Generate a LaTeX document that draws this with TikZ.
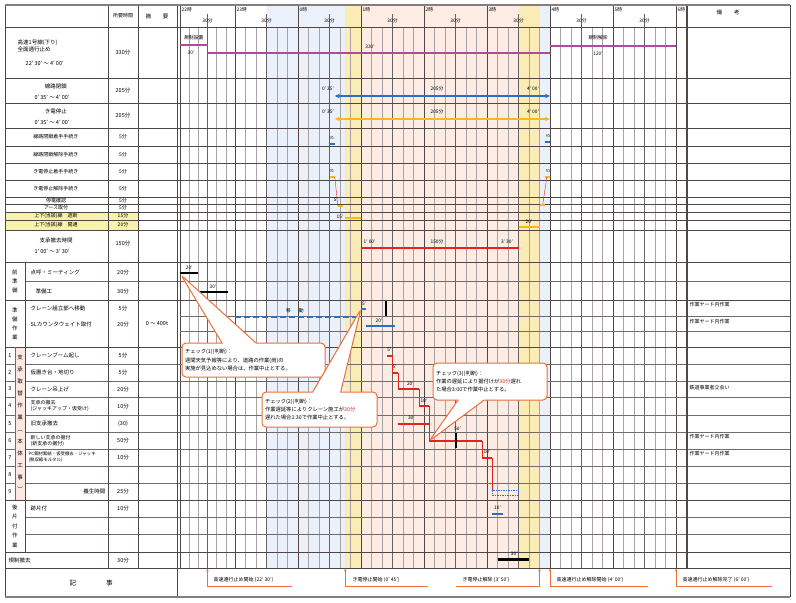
\documentclass[tikz,border=0pt]{standalone}
\usepackage{fontspec}
\setmainfont{Noto Sans CJK JP}
\usetikzlibrary{arrows.meta,shapes.callouts}
\definecolor{gridd}{RGB}{80,70,70}
\definecolor{gridl}{RGB}{170,162,162}
\definecolor{magbar}{RGB}{178,72,160}
\definecolor{bluebar}{RGB}{45,110,200}
\definecolor{yelbar}{RGB}{248,185,25}
\definecolor{redbar}{RGB}{228,35,30}
\definecolor{calloutc}{RGB}{238,110,55}
\definecolor{bandblue}{RGB}{234,241,250}
\definecolor{bandyel}{RGB}{250,236,180}
\definecolor{bandpink}{RGB}{252,236,228}
\definecolor{rowyel}{RGB}{248,242,175}
\definecolor{colpink}{RGB}{252,232,225}
\tikzset{
  lbl/.style={inner sep=0.5pt,font=\fontsize{5.5}{7}\selectfont},
  tlbl/.style={inner sep=0.5pt,font=\fontsize{4.8}{5.5}\selectfont},
  vlbl/.style={inner sep=0pt,align=center,font=\fontsize{5.5}{9}\selectfont},
  rowline/.style={draw=gridd,line width=0.6pt},
  thinline/.style={draw=gridd!80,line width=0.45pt},
  minline/.style={draw=gridl,line width=0.35pt},
  halfline/.style={draw=gridd!85,line width=0.55pt},
  hourline/.style={draw=gridd,line width=0.8pt},
  regbar/.style={draw=magbar,line width=1.8pt},
  closearrow/.style={draw=bluebar,line width=1.3pt,
    {Stealth[length=5pt,width=4.5pt]}-{Stealth[length=5pt,width=4.5pt]}},
  powerarrow/.style={closearrow,draw=yelbar},
  taskbar/.style={line width=2pt},
  linkline/.style={draw=redbar,line width=0.4pt},
  movedash/.style={draw=bluebar,line width=1.7pt,dash pattern=on 6pt off 3pt},
  checkbox/.style={rectangle callout,draw=calloutc,line width=1pt,fill=white,
    rounded corners=4pt,align=left,inner sep=3pt,
    font=\fontsize{5.3}{8.4}\selectfont},
  notearrow/.style={draw=calloutc,line width=0.6pt,-{Stealth[length=3pt,width=2.5pt]}},
  notetext/.style={inner sep=0.5pt,anchor=west,font=\fontsize{5}{6}\selectfont},
}
\begin{document}
\begin{tikzpicture}[x=1pt,y=-1pt,
  declare function={tx(\m)=ifthenelse(\m<60,180+\m*0.916667,235+(\m-60)*1.05);}]
\useasboundingbox (0,0) rectangle (796,603);
% time bands
\fill[bandblue] ({tx(90)},5) rectangle ({tx(165)},568);
\fill[bandyel] ({tx(165)},5) rectangle ({tx(180)},568);
\fill[bandpink] ({tx(180)},5) rectangle ({tx(330)},568);
\fill[bandyel] ({tx(330)},5) rectangle ({tx(350)},568);
\fill[bandblue] ({tx(350)},5) rectangle ({tx(360)},568);
\fill[rowyel] (5,212) rectangle (138,230);
\fill[colpink] (15,347) rectangle (25,500);
% grid
\foreach \m in {0,10,...,480}
  \draw[minline] ({tx(\m)},27) -- ({tx(\m)},568);
\foreach \m in {30,90,...,450}
  \draw[halfline] ({tx(\m)},14) -- ({tx(\m)},568);
\foreach \m in {0,60,...,480}
  \draw[hourline] ({tx(\m)},5) -- ({tx(\m)},568);
\foreach \y in {27,78,103,128,146,163,180,197,204,212,220,230,262,300,347,500,552,568}
  \draw[rowline] (5,\y) -- (790,\y);
\foreach \y in {281,517,534}
  \draw[thinline] (25,\y) -- (790,\y);
\foreach \y in {364,381,397,415,432,449,466,483}{
  \draw[thinline] (5,\y) -- (15,\y);
  \draw[thinline] (25,\y) -- (790,\y);
}
\foreach \y in {316,331}
  \draw[thinline] (180,\y) -- (790,\y);
\draw[rowline] (108,5) -- (108,568);
\draw[rowline] (138,5) -- (138,568);
\draw[rowline] (177,5) -- (177,597);
\draw[rowline] (25,262) -- (25,552);
\draw[thinline] (15,347) -- (15,500);
\draw[draw=gridd,line width=1.2pt] (687,5) -- (687,568);
\draw[rowline] (5,5) -- (5,597);
\draw[rowline] (790,5) -- (790,597);
\draw[draw=gridd!70,line width=2pt] (5,5) -- (790,5);
\draw[draw=gridd!70,line width=2pt] (5,597) -- (790,597);

% header
\node[lbl,font=\fontsize{5}{6}\selectfont] (hd-time) at (123,16) {所要時間};
\node[lbl] (hd-memo) at (157,16) {摘\hspace{12pt}要};
\node[lbl] (hd-note) at (728,12) {備\hspace{12pt}考};
\foreach \h [count=\k from 0] in {22,23,0,1,2,3,4,5,6}
  \node[tlbl,anchor=west] (hr-\k) at ({tx(60*\k)+1},9.5) {\h 時};
\foreach \k in {0,...,7}
  \node[tlbl] (hf-\k) at ({tx(60*\k+30)},20.5) {30分};

% left labels
\node[lbl,anchor=west,align=left] (lb-road) at (17,46) {高速1号線(下り)\\全面通行止め};
\node[lbl,anchor=west] (lb-road-t) at (25,63) {22' 30' ～ 4' 00'};
\node[lbl] (du-road) at (123,52) {330分};
\node[lbl] (lb-close) at (56,86) {線路閉鎖};
\node[lbl] (lb-close-t) at (52,97) {0' 35' ～ 4' 00'};
\node[lbl] (du-close) at (123,90) {205分};
\node[lbl] (lb-power) at (56,111) {き電停止};
\node[lbl] (lb-power-t) at (52,122) {0' 35' ～ 4' 00'};
\node[lbl] (du-power) at (123,115) {205分};
\foreach \y/\t/\d [count=\i] in {137/線路閉鎖着手手続き/5分,155/線路閉鎖解除手続き/5分,
    172/き電停止着手手続き/5分,189/き電停止解除手続き/5分,200.5/停電確認/5分,
    208/アース取付/5分,216/上下(当該)線　遮断/15分,225/上下(当該)線　開通/20分}{
  \node[lbl,font=\fontsize{5}{6}\selectfont] (lb-up-\i) at (56,\y) {\t};
  \node[lbl,font=\fontsize{5}{6}\selectfont] (du-up-\i) at (123,\y) {\d};
}
\node[lbl] (lb-brg) at (56,240) {支承撤去時間};
\node[lbl] (lb-brg-t) at (52,251) {1' 00' ～ 3' 30'};
\node[lbl] (du-brg) at (123,243) {150分};

\node[vlbl] (sec-pre) at (15,281) {前\\準\\備};
\node[vlbl] (sec-prep) at (15,323.5) {準\\備\\作\\業};
\node[vlbl,font=\fontsize{5.5}{12}\selectfont] (sec-main) at (20,423.5)
  {支\\承\\取\\替\\作\\業\\︵\\本\\体\\工\\事\\︶};
\node[vlbl,font=\fontsize{5.5}{9.5}\selectfont] (sec-post) at (15,526) {後\\片\\付\\作\\業};
\foreach \y/\t/\d [count=\i] in {272/点呼・ミーティング/20分,308/クレーン組立部へ移動/5分,
    324/SLカウンタウェイト取付/20分,355.5/クレーンブーム起し/5分,
    372.5/仮置き台・地切り/5分,389/クレーン吊上げ/20分,423.5/旧支承撤去/(30),
    508.5/跡片付/10分}{
  \node[lbl,anchor=west] (lb-job-\i) at (30,\y) {\t};
  \node[lbl] (du-job-\i) at (123,\y) {\d};
}
\node[lbl,anchor=west] (lb-job-prep) at (35,291) {準備工};
\node[lbl] (du-job-prep) at (123,291) {30分};
\node[lbl] (memo-sl) at (157,324) {0 ～ 400t};
\node[lbl,anchor=west,align=left,font=\fontsize{5}{6}\selectfont] (lb-job-rem) at (30,406)
  {支承の撤去\\(ジャッキアップ・仮受け)};
\node[lbl] (du-job-rem) at (123,406) {10分};
\node[lbl,anchor=west,align=left,font=\fontsize{5}{6}\selectfont] (lb-job-set) at (30,440.5)
  {新しい支承の据付\\(新支承の据付)};
\node[lbl] (du-job-set) at (123,440.5) {50分};
\node[lbl,anchor=west,align=left,font=\fontsize{4.4}{6}\selectfont] (lb-job-pc) at (28,457.5)
  {PC鋼材緊結・仮受撤去・ジャッキ\\(無収縮モルタル)};
\node[lbl] (du-job-pc) at (123,457.5) {10分};
\node[lbl,anchor=east] (lb-job-cure) at (106,491.5) {養生時間};
\node[lbl] (du-job-cure) at (123,491.5) {25分};
\foreach \n [count=\i] in {355.5,372.5,389,406,423.5,440.5,457.5,474.5,491.5}
  \node[lbl] (no-\i) at (10,\n) {\i};
\node[lbl,anchor=west] (lb-open) at (8,560) {規制撤去};
\node[lbl] (du-open) at (123,560) {30分};
\node[lbl,font=\fontsize{6.5}{8}\selectfont] (lb-memo) at (91,583) {記\hspace{30pt}事};

% remarks column
\foreach \y/\t [count=\i] in {305/作業ヤード内作業,322/作業ヤード内作業,388/鉄道事業者立会い,
    437/作業ヤード内作業,454/作業ヤード内作業}
  \node[lbl,anchor=west,font=\fontsize{5}{6}\selectfont] (rm-\i) at (689,\y) {\t};

% road closure
\draw[regbar] ({tx(0)},45) -- ({tx(30)},45);
\draw[regbar] ({tx(30)},53) -- ({tx(360)},53);
\draw[regbar] ({tx(360)},46) -- ({tx(480)},46);
\node[tlbl] (rg-set) at ({tx(15)},38) {規制設置};
\node[tlbl] (rg-set-t) at (191,53) {30'};
\node[tlbl] (rg-main-t) at (370,47) {330'};
\node[tlbl] (rg-off) at (598,38) {規制解除};
\node[tlbl] (rg-off-t) at (598,54) {120'};
% track closure and power stop
\draw[closearrow] ({tx(155)},96) -- ({tx(360)},96);
\node[tlbl] (cl-s) at (328,89) {0' 35'};
\node[tlbl] (cl-d) at (437,89) {205分};
\node[tlbl] (cl-e) at (533,89) {4' 00'};
\draw[powerarrow] ({tx(155)},119) -- ({tx(360)},119);
\node[tlbl] (pw-s) at (328,112) {0' 35'};
\node[tlbl] (pw-d) at (437,112) {205分};
\node[tlbl] (pw-e) at (533,112) {4' 00'};
% procedures
\draw[taskbar,draw=bluebar] ({tx(150)},144) -- ({tx(155)},144);
\node[tlbl,rotate=-90] (pr-1) at ({tx(152)},138) {5'};
\draw[taskbar,draw=yelbar] ({tx(150)},177) -- ({tx(155)},177);
\node[tlbl,rotate=-90] (pr-2) at ({tx(152)},171) {5'};
\draw[linkline] ({tx(155)},177) -- ({tx(158)},206);
\draw[taskbar,draw=yelbar] ({tx(158)},206) -- ({tx(163)},206);
\node[tlbl] (pr-3) at ({tx(156)},200) {5'};
\draw[taskbar,draw=yelbar] ({tx(165)},218) -- ({tx(180)},218);
\node[tlbl] (pr-4) at (340,217) {15'};
\draw[taskbar,draw=bluebar] ({tx(355)},142) -- ({tx(360)},142);
\node[tlbl,rotate=-90] (pr-5) at ({tx(358)},136) {5'};
\draw[taskbar,draw=yelbar] ({tx(355)},177) -- ({tx(360)},177);
\node[tlbl,rotate=-90] (pr-6) at ({tx(358)},171) {5'};
\draw[linkline] ({tx(357)},177) -- ({tx(353)},205);
\draw[taskbar,draw=yelbar] ({tx(350)},205) -- ({tx(355)},205);
\draw[taskbar,draw=yelbar] ({tx(330)},227) -- ({tx(350)},227);
\node[tlbl] (pr-7) at ({tx(340)},222) {20'};
\draw[taskbar,draw=redbar] ({tx(180)},248) -- ({tx(330)},248);
\node[tlbl,anchor=west] (br-s) at ({tx(180)+2},242) {1' 00'};
\node[tlbl] (br-d) at (437,242) {150分};
\node[tlbl] (br-e) at (507,242) {3' 30'};
% preparation
\draw[taskbar] ({tx(0)},273) -- ({tx(20)},273);
\node[tlbl] (pp-1) at ({tx(10)},267.5) {20'};
\draw[taskbar] ({tx(20)},292) -- ({tx(52)},292);
\node[tlbl] (pp-2) at ({tx(36)},286.5) {30'};
\draw[movedash] ({tx(60)},317) -- ({tx(175)},317);
\node[tlbl] (pp-mv) at (295,311) {移\hspace{8pt}動};
\draw[taskbar,draw=bluebar] ({tx(180)},309) -- ({tx(185)},309);
\node[tlbl] (pp-3) at (364,303.5) {5'};
\draw[taskbar] ({tx(204)},300.5) -- ({tx(204)},316);
\draw[taskbar,draw=bluebar] ({tx(185)},326) -- ({tx(212)},326);
\node[tlbl] (pp-4) at (379,320.5) {20'};
% bearing replacement
\draw[taskbar,draw=redbar] ({tx(205)},355.5) -- ({tx(210)},355.5);
\node[tlbl] (bw-1) at ({tx(207)},350) {5'};
\draw[linkline] ({tx(210)},355.5) -- ({tx(210)},372.5);
\draw[taskbar,draw=redbar] ({tx(210)},372.5) -- ({tx(215)},372.5);
\node[tlbl] (bw-2) at ({tx(212)},367) {5'};
\draw[linkline] ({tx(215)},372.5) -- ({tx(215)},389);
\draw[taskbar,draw=redbar] ({tx(215)},389) -- ({tx(235)},389);
\node[tlbl] (bw-3) at ({tx(227)},383.5) {20'};
\draw[linkline] ({tx(235)},389) -- ({tx(235)},406);
\draw[taskbar,draw=redbar] ({tx(235)},406) -- ({tx(245)},406);
\node[tlbl] (bw-4) at ({tx(240)},400.5) {10'};
\draw[taskbar,draw=redbar] ({tx(215)},423.5) -- ({tx(245)},423.5);
\node[tlbl] (bw-5) at ({tx(228)},418) {30'};
\draw[linkline] ({tx(245)},406) -- ({tx(245)},440.5);
\draw[taskbar,draw=redbar] ({tx(245)},440.5) -- ({tx(295)},440.5);
\node[tlbl] (bw-6) at ({tx(272)},428.5) {50'};
\draw[taskbar] ({tx(270)},433) -- ({tx(270)},448);
\draw[linkline] ({tx(295)},440.5) -- ({tx(295)},457.5);
\draw[taskbar,draw=redbar] ({tx(295)},457.5) -- ({tx(305)},457.5);
\node[tlbl] (bw-7) at ({tx(300)},452) {10'};
\draw[linkline] ({tx(305)},457.5) -- ({tx(305)},490);
\draw[draw=bluebar,line width=0.7pt,dash pattern=on 1.5pt off 1pt] ({tx(305)},490) rectangle ({tx(330)},495);
\draw[taskbar,draw=bluebar] ({tx(305)},514) -- ({tx(315)},514);
\node[tlbl] (bw-8) at ({tx(310)},508) {10'};
\draw[taskbar,line width=2.4pt] ({tx(310)},559.5) -- ({tx(340)},559.5);
\node[tlbl] (bw-9) at ({tx(326)},553.5) {30'};

% checks
\coordinate (p1) at (181,275);
\coordinate (p2) at ({tx(180)},309);
\coordinate (p3) at ({tx(245)},441);
\node[checkbox,text width=137pt,minimum height=34pt,callout pointer width=34pt,
  callout absolute pointer={(p1)}] (chk1) at (253.5,360)
  {チェック(1)(判断)：\\週間天気予報等により、道路の作業(雨)の\\実施が見込めない場合は、作業中止とする。};
\node[checkbox,text width=109pt,minimum height=35pt,callout pointer width=28pt,
  callout absolute pointer={(p2)}] (chk2) at (319.5,409.5)
  {チェック(2)(判断)：\\作業遅延等によりクレーン施工が{\color{redbar}30分}\\遅れた場合1:30で作業中止とする。};
\node[checkbox,text width=108pt,minimum height=37pt,callout pointer width=26pt,
  callout absolute pointer={(p3)}] (chk3) at (490,381.5)
  {チェック(3)(判断)：\\作業の遅延により据付けが{\color{redbar}30分}遅れ\\た場合3:00で作業中止とする。};

% notes
\coordinate (n1a) at ({tx(30)},568.6);  \coordinate (n1b) at (292,586);
\coordinate (n2a) at ({tx(165)},568.6); \coordinate (n2b) at (428,586);
\coordinate (n3a) at ({tx(350)},568.6); \coordinate (n3b) at (456,586);
\coordinate (n4a) at ({tx(360)},568.6); \coordinate (n4b) at (648,586);
\coordinate (n5a) at ({tx(480)},568.6); \coordinate (n5b) at (772,586);
\foreach \k in {1,...,5}
  \draw[notearrow] (n\k b) -| (n\k a);
\node[notetext] (nt-1) at (213,580) {高速通行止め開始 (22' 30')};
\node[notetext] (nt-2) at (352,580) {き電停止開始 (0' 45')};
\node[notetext] (nt-3) at (462,580) {き電停止解除 (3' 50')};
\node[notetext] (nt-4) at (556,580) {高速通行止め解除開始 (4' 00')};
\node[notetext] (nt-5) at (682,580) {高速通行止め解除完了 (6' 00')};
\end{tikzpicture}
\end{document}
